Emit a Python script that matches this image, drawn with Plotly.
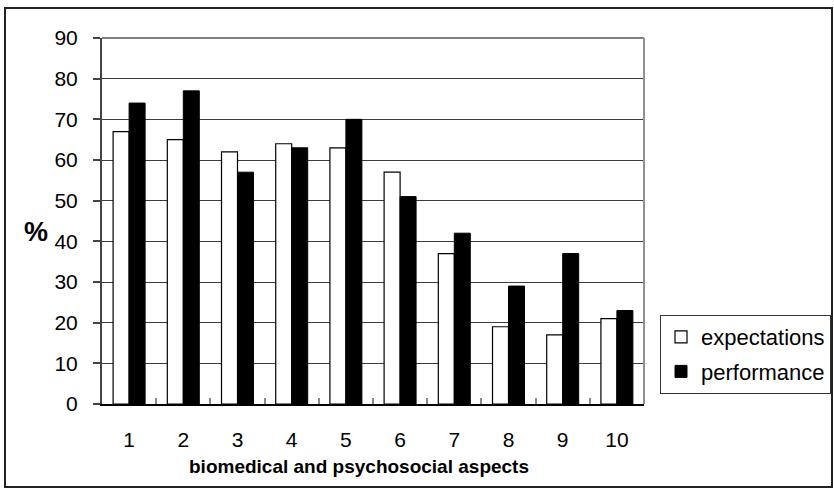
import plotly.graph_objects as go

# Aspect numbers on the x axis
aspects = ["1", "2", "3", "4", "5", "6", "7", "8", "9", "10"]
# Percentages per aspect
expectations = [67, 65, 62, 64, 63, 57, 37, 19, 17, 21]
performance = [74, 77, 57, 63, 70, 51, 42, 29, 37, 23]

FONT = "Arial, Liberation Sans, sans-serif"

W, H = 834, 490
L, R, T, B = 102, 190, 38, 86
pw, ph = W - L - R, H - T - B


def px_x(x):
    return (x - L) / pw


def px_y(y):
    return (H - B - y) / ph


fig = go.Figure()
fig.add_trace(go.Bar(
    x=aspects, y=expectations, name="expectations",
    marker=dict(color="white", line=dict(color="black", width=1.2)),
    legendgroup="a",
))
fig.add_trace(go.Bar(
    x=aspects, y=performance, name="performance",
    marker=dict(color="black", line=dict(color="black", width=1)),
    legendgroup="b",
))

fig.update_layout(
    width=W, height=H, autosize=False,
    margin=dict(l=L, r=R, t=T, b=B, autoexpand=False),
    paper_bgcolor="white", plot_bgcolor="white",
    barmode="group", bargap=0.41, bargroupgap=0,
    font=dict(family=FONT, color="black", size=21),
    showlegend=True,
    legend=dict(
        x=px_x(660), y=px_y(315), xanchor="left", yanchor="top",
        bordercolor="#333333", borderwidth=1, bgcolor="white",
        font=dict(size=22, family=FONT), traceorder="grouped",
        tracegroupgap=3,
    ),
    xaxis=dict(
        type="category", tickson="boundaries", ticks="inside", ticklen=6,
        tickcolor="#888888", tickwidth=1.5,
        showline=True, linecolor="black", linewidth=1.5,
        showgrid=False, tickfont=dict(size=21), ticklabelstandoff=16,
        fixedrange=True,
    ),
    yaxis=dict(
        range=[0, 90], dtick=10, tick0=0,
        showgrid=True, gridcolor="#3c3c3c", gridwidth=1,
        showline=True, linecolor="#444444", linewidth=2,
        ticks="outside", ticklen=7, tickcolor="#444444", tickwidth=1.5,
        tickfont=dict(size=21), ticklabelstandoff=11,
        zeroline=False, fixedrange=True,
    ),
)

# Plot-area frame on the top and right edges
fig.add_shape(type="line", xref="paper", yref="paper", x0=0, x1=1, y0=1, y1=1,
              line=dict(color="#808080", width=2), layer="above")
fig.add_shape(type="line", xref="paper", yref="paper", x0=1, x1=1, y0=0, y1=1,
              line=dict(color="#909090", width=2), layer="above")

# Outer chart border
fig.add_shape(type="rect", xref="paper", yref="paper",
              x0=px_x(5), x1=px_x(832), y0=px_y(487), y1=px_y(8),
              line=dict(color="#222222", width=2), layer="below")

# Axis titles
fig.add_annotation(text="<b>%</b>", xref="paper", yref="paper",
                   x=px_x(36), y=px_y(232), xanchor="center", yanchor="middle",
                   showarrow=False, font=dict(size=27, family=FONT))
fig.add_annotation(text="<b>biomedical and psychosocial aspects</b>",
                   xref="paper", yref="paper",
                   x=px_x(359), y=px_y(466), xanchor="center", yanchor="middle",
                   showarrow=False, font=dict(size=19, family=FONT))

fig.write_html("out.html")
